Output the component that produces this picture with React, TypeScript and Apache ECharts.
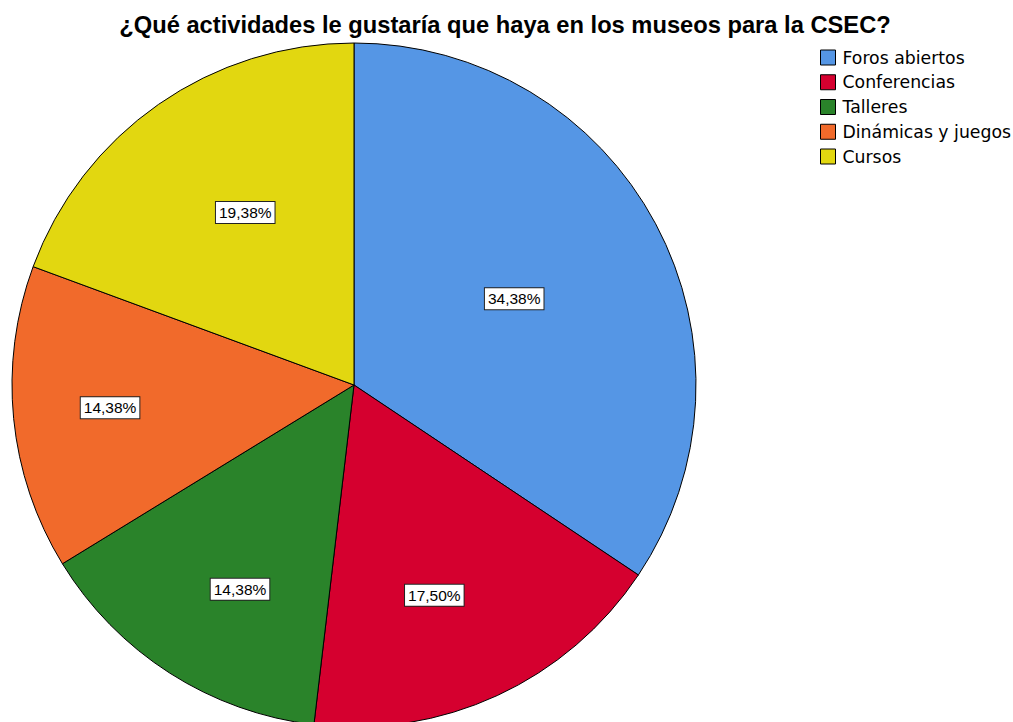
import React, { useEffect, useRef } from "react";
import * as echarts from "echarts";

const categories = ["Foros abiertos", "Conferencias", "Talleres", "Dinámicas y juegos", "Cursos"];
const values = [34.38, 17.5, 14.38, 14.38, 19.38];
const colors = ["#5596e5", "#d5002f", "#2a832a", "#f16a2b", "#e2d710"];
const titleText = "¿Qué actividades le gustaría que haya en los museos para la CSEC?";

// label placement as in the reference: distance from the centre (px) and angular shift (deg)
const labelDist = [179, 222, 231, 242, 201];
const labelShift = [-0.2, 3.9, -3.5, 0.3, 2.7];

export default function App() {
  const ref = useRef<HTMLDivElement>(null);
  useEffect(() => {
    document.body.style.margin = "0";
    const chart = echarts.init(ref.current!, undefined, { renderer: "svg" });
    const R = 342;
    const total = values.reduce((a, b) => a + b, 0);
    let cum = 0;
    const data = categories.map((c, i) => {
      const mid = ((cum + values[i] / 2) / total) * 2 * Math.PI;
      cum += values[i];
      const ang = mid + (labelShift[i] * Math.PI) / 180;
      const base = R / 2;
      const dx = labelDist[i] * Math.sin(ang) - base * Math.sin(mid);
      const dy = -labelDist[i] * Math.cos(ang) + base * Math.cos(mid);
      return {
        name: c,
        value: values[i],
        label: { offset: [dx, dy] },
      };
    });
    chart.setOption({
      animation: false,
      backgroundColor: "#ffffff",
      title: {
        text: titleText,
        left: 500,
        textAlign: "center",
        top: 7.5,
        textStyle: { fontFamily: "Liberation Sans", fontWeight: "bold", fontSize: 23.7, color: "#000" },
      },
      legend: {
        orient: "vertical",
        left: 815,
        top: 44,
        itemWidth: 15,
        itemHeight: 15,
        itemGap: 7.75,
        icon: "rect",
        data: categories,
        textStyle: { fontFamily: "DejaVu Sans", fontSize: 17.3, color: "#000", padding: [0, 0, 0, 2] },
        itemStyle: { borderColor: "#000", borderWidth: 1 },
      },
      series: [
        {
          type: "pie",
          center: [354, 385],
          radius: R,
          startAngle: 90,
          clockwise: true,
          color: colors,
          itemStyle: { borderColor: "#000", borderWidth: 1 },
          label: {
            position: "inside",
            formatter: (p: any) => p.value.toFixed(2).replace(".", ",") + "%",
            fontFamily: "Liberation Sans",
            fontSize: 15.5,
            lineHeight: 16,
            color: "#000",
            backgroundColor: "#fff",
            borderColor: "#222",
            borderWidth: 1,
            padding: [3, 3, 2, 3],
          },
          labelLine: { show: false },
          emphasis: { disabled: true },
          data,
        },
      ],
    });
    return () => chart.dispose();
  }, []);
  return <div ref={ref} style={{ width: 1013, height: 722 }} />;
}
